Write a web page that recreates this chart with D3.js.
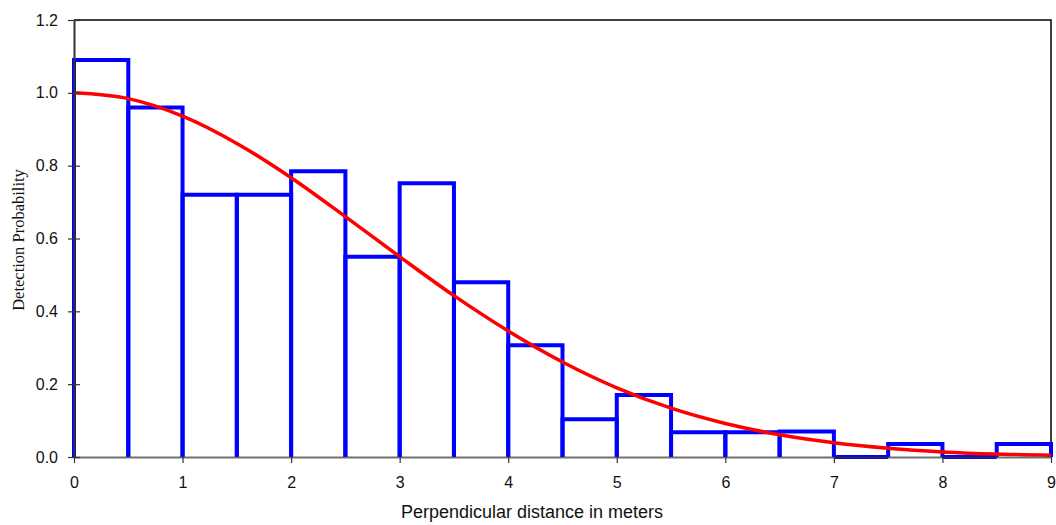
<!DOCTYPE html>
<html>
<head>
<meta charset="utf-8">
<script src="https://cdn.jsdelivr.net/npm/d3@7"></script>
<style>
  body { margin: 0; background: #fff; }
  svg { display: block; }
</style>
</head>
<body>
<div id="chart"></div>
<script>
// Histogram bins (0.5 m wide), heights.
const binStarts = [0, 0.5, 1, 1.5, 2, 2.5, 3, 3.5, 4, 4.5, 5, 5.5, 6, 6.5, 7, 7.5, 8, 8.5];
const binHeights = [1.09, 0.96, 0.72, 0.72, 0.785, 0.55, 0.752, 0.48, 0.307, 0.104, 0.17, 0.068, 0.068, 0.07, 0, 0.036, 0, 0.036];
const binWidth = 0.5;

// Fitted detection curve, read at every 0.5 m.
const curveX = [0, 0.5, 1, 1.5, 2, 2.5, 3, 3.5, 4, 4.5, 5, 5.5, 6, 6.5, 7, 7.5, 8, 8.5, 9];
const curveY = [1.0, 0.984, 0.936, 0.861, 0.767, 0.66, 0.55, 0.443, 0.346, 0.261, 0.19, 0.134, 0.092, 0.061, 0.039, 0.024, 0.014, 0.008, 0.005];

const xTicks = [0, 1, 2, 3, 4, 5, 6, 7, 8, 9];
const yTicks = [0, 0.2, 0.4, 0.6, 0.8, 1.0, 1.2];

const width = 1056, height = 525;
const margin = {top: 20, right: 5, bottom: 68, left: 74};

const svg = d3.select("#chart").append("svg")
    .attr("width", width)
    .attr("height", height);

const x = d3.scaleLinear().domain([0, 9]).range([margin.left, width - margin.right]);
const y = d3.scaleLinear().domain([0, 1.2]).range([height - margin.bottom, margin.top]);

// frame (top and right)
svg.append("path")
    .attr("d", "M" + x(0) + "," + y(1.2) + "H" + x(9) + "V" + y(0))
    .attr("fill", "none")
    .attr("stroke", "#000")
    .attr("stroke-width", 1.5);

// histogram outlines: sides and top only, the baseline is the axis
svg.append("g").selectAll("path")
    .data(binStarts)
    .enter().append("path")
    .attr("d", (d, i) => "M" + x(d) + "," + y(0) +
        "V" + y(binHeights[i]) +
        "H" + x(d + binWidth) +
        "V" + y(0))
    .attr("fill", "none")
    .attr("stroke", "#0000ff")
    .attr("stroke-width", 4);

// fitted curve
const line = d3.line()
    .x(d => x(d[0]))
    .y(d => y(d[1]))
    .curve(d3.curveMonotoneX);

svg.append("path")
    .datum(curveX.map((v, i) => [v, curveY[i]]))
    .attr("d", line)
    .attr("fill", "none")
    .attr("stroke", "#ff0000")
    .attr("stroke-width", 3.5);

// axes
const xAxis = svg.append("g")
    .attr("transform", "translate(0," + y(0) + ")")
    .call(d3.axisBottom(x).tickValues(xTicks).tickFormat(d3.format("d")).tickSizeOuter(0).tickSizeInner(6).tickPadding(14));

const yAxis = svg.append("g")
    .attr("transform", "translate(" + x(0) + ",0)")
    .call(d3.axisLeft(y).tickValues(yTicks).tickFormat(d3.format(".1f")).tickSizeOuter(0).tickSizeInner(6).tickPadding(10));

yAxis.selectAll(".tick line").attr("x2", 6).attr("x1", -6);

[xAxis, yAxis].forEach(a => {
    a.select(".domain").attr("stroke", "#333").attr("stroke-width", 2);
    a.selectAll(".tick line").attr("stroke", "#333").attr("stroke-width", 1.2);
    a.selectAll(".tick text")
        .attr("fill", "#111")
        .style("font-family", "Liberation Sans, Arial, sans-serif")
        .style("font-size", "16px");
});
xAxis.select(".domain").attr("stroke-opacity", 0.7);

// axis titles
svg.append("text")
    .attr("x", 532)
    .attr("y", 518)
    .attr("text-anchor", "middle")
    .style("font-family", "Liberation Sans, Arial, sans-serif")
    .style("font-size", "18px")
    .attr("fill", "#111")
    .text("Perpendicular distance in meters");

svg.append("text")
    .attr("transform", "translate(24,240) rotate(-90)")
    .attr("text-anchor", "middle")
    .style("font-family", "Liberation Serif, Times New Roman, serif")
    .style("font-size", "16.5px")
    .attr("fill", "#111")
    .text("Detection Probability");
</script>
</body>
</html>
